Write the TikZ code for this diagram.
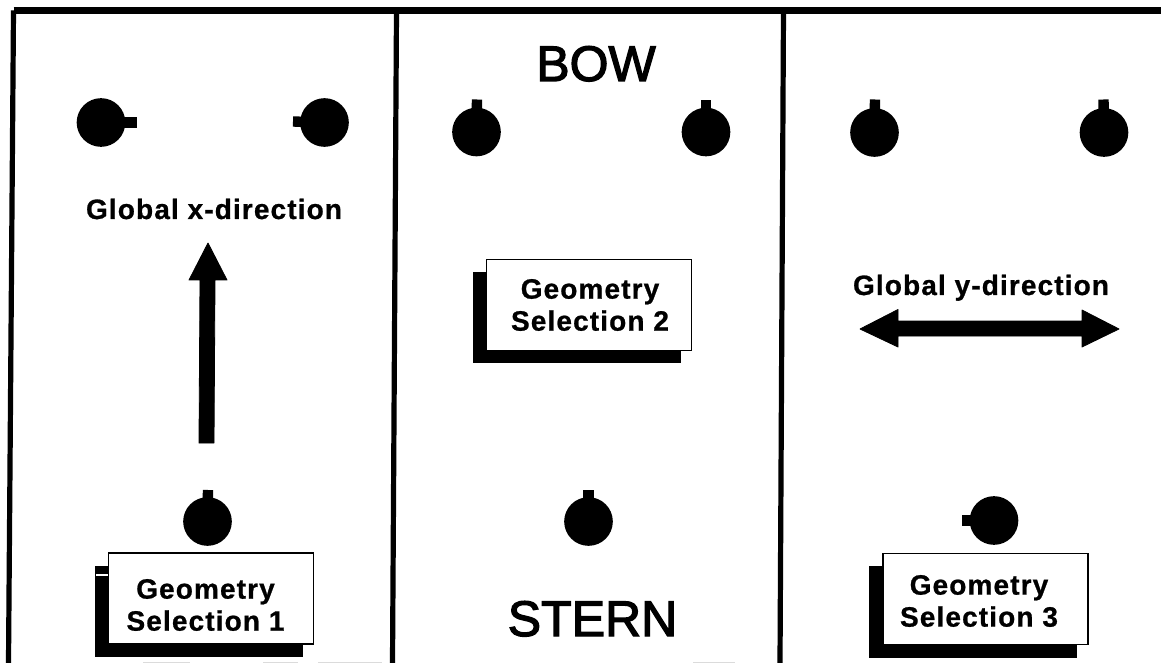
\documentclass[tikz,border=0pt]{standalone}
\usepackage{fontspec}
\setmainfont{Liberation Sans}
\newfontfamily\boxfont[LetterSpace=4,FakeBold=0.8]{Liberation Sans Bold}
\newfontfamily\dirfont[LetterSpace=4,FakeBold=0.8]{Liberation Sans Bold}
\newfontfamily\endfont[FakeBold=2.5]{Liberation Sans}
\tikzset{
  frameline/.style={line width=3.9pt,draw=black},
  probe/.style={circle,fill=black,inner sep=0pt,minimum size=36.5pt},
  stub/.style={line width=7.8pt,line cap=butt,draw=black},
  shadowbox/.style={fill=black,inner sep=0pt,minimum width=156pt,minimum height=68.5pt},
  selbox/.style={draw=black,fill=white,line width=1.2pt,inner sep=0pt,minimum width=154pt,minimum height=68.5pt},
  boxtext/.style={inner sep=0pt,align=center,font=\fontsize{21pt}{24pt}\boxfont},
  dirlabel/.style={anchor=base,inner sep=0pt,font=\fontsize{21pt}{23pt}\dirfont},
  endlabel/.style={anchor=base,inner sep=0pt,font=\fontsize{37.5pt}{40pt}\endfont},
  bigarrow/.style={fill=black,draw=black,line width=0.6pt,line join=round},
  noise/.style={draw=black!14,line width=0.8pt}
}
\begin{document}
\begin{tikzpicture}[x=0.75pt,y=-0.75pt]
\useasboundingbox (0,0) rectangle (1161,663);
\fill[white] (0,0) rectangle (1161,663);
% frame
\coordinate (tl) at (13.5,10.5);
\coordinate (tr) at (1161,10.5);
\coordinate (bl) at (8.5,663);
\coordinate (d1t) at (396.5,10.5);
\coordinate (d1b) at (392.5,663);
\coordinate (d2t) at (783.5,10.5);
\coordinate (d2b) at (780,663);
\draw[line width=5.5pt,line join=round] (tl) -- (tr);
\draw[frameline] (tl) -- (bl);
\draw[frameline] (d1t) -- (d1b);
\draw[frameline] (d2t) -- (d2b);
% probes
\foreach \n/\x/\y/\sx/\sy in {
  a/101/122.5/137/122.5,
  b/324.5/122.5/293/121.5,
  c/207.5/521.5/208/490,
  d/476.5/132/477/99.5,
  e/706/132/706/100,
  f/588.5/521.5/588.5/490,
  g/874.5/132.5/875/99.5,
  h/1104/132.5/1103.5/99.5,
  i/994/520.5/962/520.5}{
  \node[probe] (\n) at (\x,\y) {};
  \coordinate (\n s) at (\sx,\sy);
  \draw[stub] (\n.center) -- (\n s);
}
% boxes
\node[shadowbox] (s1) at (199,611.5) {};
\fill[white] (96,574) rectangle (109,576);
\node[selbox] (b1) at (211,598.5) {};
\node[boxtext] (t1) at (205.5,605) {Geometry\\Selection 1};
\node[shadowbox] (s2) at (577,317.5) {};
\node[selbox] (b2) at (589,305) {};
\node[boxtext] (t2) at (590,305) {Geometry\\Selection 2};
\node[shadowbox] (s3) at (973,612) {};
\node[selbox] (b3) at (985.5,599) {};
\node[boxtext] (t3) at (979,601) {Geometry\\Selection 3};
% labels
\node[endlabel] (bow) at (596,81) {BOW};
\node[endlabel] (stern) at (592.5,636) {STERN};
\node[dirlabel] (gx) at (214,219) {Global x-direction};
\node[dirlabel] (gy) at (981,295) {Global y-direction};
% arrows
\draw[bigarrow] (208,243) -- (227,280) -- (215,280) -- (214,443) -- (199,443) -- (200,280) -- (189,280) -- cycle;
\draw[bigarrow] (860,329) -- (898,309.5) -- (898,321) -- (1082,321) -- (1082,310) -- (1119,329) -- (1082,347) -- (1082,336) -- (898,336) -- (898,347) -- cycle;
% scan remnants
\foreach \a/\b in {143/190,263/298,318/382,693/735}{
  \draw[noise] (\a,662.4) -- (\b,662.4);
}
\end{tikzpicture}
\end{document}
